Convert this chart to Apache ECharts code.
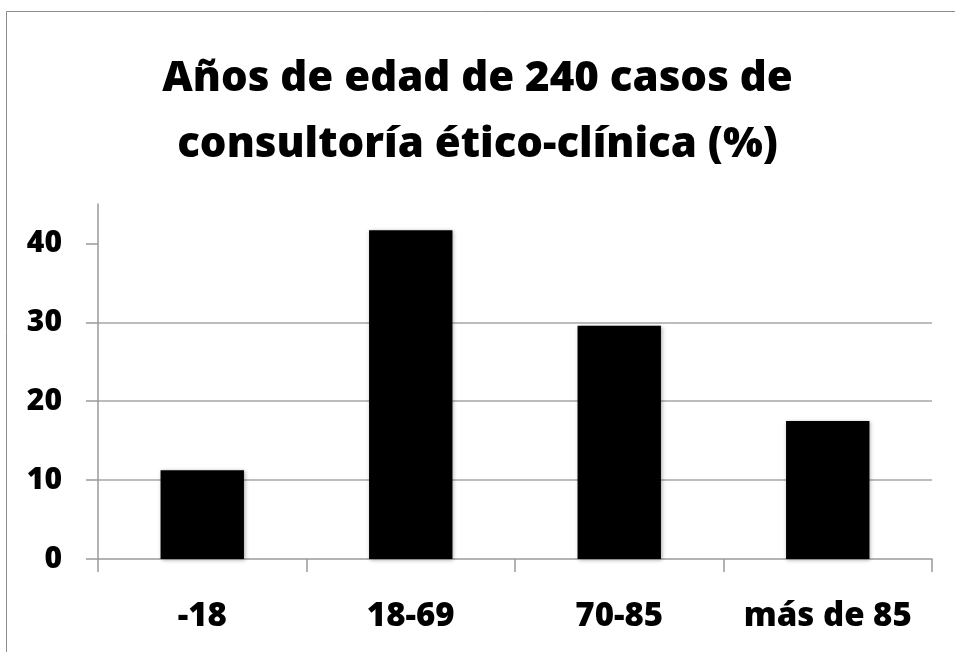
<!DOCTYPE html>
<html>
<head>
<meta charset="utf-8">
<script src="https://cdn.jsdelivr.net/npm/echarts@6/dist/echarts.min.js"></script>
<style>
html,body{margin:0;padding:0;background:#fff;}
#chart{width:955px;height:652px;}
</style>
</head>
<body>
<div id="chart"></div>
<script>
const titleText = "Años de edad de 240 casos de\nconsultoría ético-clínica (%)";
const categories = ["-18", "18-69", "70-85", "más de 85"];
const values = [11.25, 41.67, 29.58, 17.5];
const yTicks = [0, 10, 20, 30, 40];

const FONT = "'Open Sans'";
const chart = echarts.init(document.getElementById('chart'), null, {renderer: 'canvas'});
chart.setOption({
  backgroundColor: '#fff',
  animation: false,
  graphic: [{
    type: 'rect', silent: true,
    shape: {x: 6.5, y: 11.5, width: 1000, height: 1000},
    style: {fill: 'none', stroke: '#8c8c8c', lineWidth: 1}
  }],
  title: {
    text: titleText,
    left: 'center',
    top: 41,
    textStyle: {fontFamily: FONT, fontWeight: 800, fontSize: 42, lineHeight: 66, color: '#000'}
  },
  grid: {left: 98, right: 23, top: 204, bottom: 93, containLabel: false},
  xAxis: {
    type: 'category',
    data: categories,
    axisLine: {lineStyle: {color: '#9a9a9a', width: 1.5}},
    axisTick: {show: true, interval: 0, length: 13, lineStyle: {color: '#9a9a9a', width: 1.5}},
    axisLabel: {interval: 0, hideOverlap: false, margin: 41, fontFamily: FONT, fontWeight: 800, fontSize: 33, color: '#000'}
  },
  yAxis: {
    type: 'value',
    min: 0, max: 45, interval: 10,
    axisLine: {show: true, lineStyle: {color: '#9a9a9a', width: 1.5}},
    axisTick: {show: true, length: 12, customValues: yTicks, lineStyle: {color: '#9a9a9a', width: 1.5}},
    axisLabel: {margin: 36, customValues: yTicks, fontFamily: FONT, fontWeight: 800, fontSize: 30, color: '#000'},
    splitLine: {show: true, showMaxLine: false, showMinLine: false, lineStyle: {color: '#a6a6a6', width: 1.5}}
  },
  series: [{
    type: 'bar',
    data: values,
    barWidth: '40%',
    itemStyle: {color: '#000', shadowBlur: 4, shadowColor: 'rgba(0,0,0,0.35)', shadowOffsetX: 1, shadowOffsetY: 1}
  }]
});
</script>
</body>
</html>
